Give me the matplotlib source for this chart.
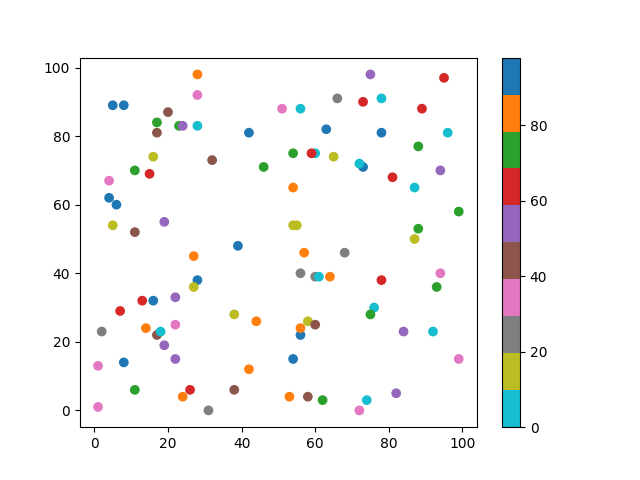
import matplotlib
matplotlib.use('Agg')
from matplotlib import pyplot as plt

# colour band values (tab10_r, 0..98): cyan, olive, gray, pink, brown,
# purple, red, green, orange, blue
CY, OL, GR, PK, BR, PU, RD, GN, OR, BL = 5, 15, 25, 35, 45, 55, 65, 75, 85, 95

xs = [28, 28, 5, 8, 20, 51, 17, 23, 24, 28, 17, 42, 16, 32, 46, 11, 15, 4, 4, 6,
      5, 11, 19, 39, 75, 95, 66, 73, 78, 56, 89, 63, 78, 96, 88, 54, 60, 59, 65, 73,
      72, 81, 94, 54, 87, 99, 54, 55, 88, 87, 27, 28, 27, 13, 16, 22, 7, 38, 44, 2,
      14, 17, 18, 22, 19, 22, 8, 1, 42, 11, 26, 24, 38, 1, 31, 57, 68, 56, 60, 61,
      64, 78, 94, 93, 76, 75, 58, 60, 56, 56, 84, 92, 54, 99, 53, 58, 62, 74, 82, 72]
ys = [98, 92, 89, 89, 87, 88, 84, 83, 83, 83, 81, 81, 74, 73, 71, 70, 69, 67, 62, 60,
      54, 52, 55, 48, 98, 97, 91, 90, 91, 88, 88, 82, 81, 81, 77, 75, 75, 75, 74, 71,
      72, 68, 70, 65, 65, 58, 54, 54, 53, 50, 45, 38, 36, 32, 32, 33, 29, 28, 26, 23,
      24, 22, 23, 25, 19, 15, 14, 13, 12, 6, 6, 4, 6, 1, 0, 46, 46, 40, 39, 39,
      39, 38, 40, 36, 30, 28, 26, 25, 22, 24, 23, 23, 15, 15, 4, 4, 3, 3, 5, 0]
colors = [OR, PK, BL, BL, BR, PK, GN, GN, PU, CY, BR, BL, OL, BR, GN, GN, RD, PK, BL, BL,
          OL, BR, PU, BL, PU, RD, GR, RD, CY, CY, RD, BL, BL, CY, GN, GN, CY, RD, OL, BL,
          CY, RD, PU, OR, CY, GN, OL, OL, GN, OL, OR, BL, OL, RD, BL, PU, RD, OL, OR, GR,
          OR, BR, CY, PK, PU, PU, BL, PK, OR, GN, RD, OR, BR, PK, GR, OR, GR, GR, GR, CY,
          OR, RD, PK, GN, CY, GN, OL, BR, BL, OR, PU, CY, BL, PK, OR, BR, GN, CY, PU, PK]

fig = plt.figure(figsize=(6.4, 4.8), dpi=100)
sc = plt.scatter(xs, ys, c=colors, cmap='tab10_r', vmin=0, vmax=98)
plt.colorbar(sc)

plt.savefig('out.png')
